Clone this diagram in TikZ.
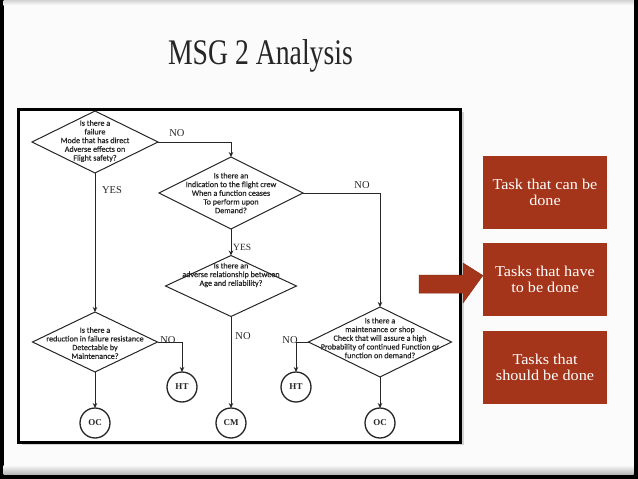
\documentclass[tikz,border=0pt]{standalone}
\usepackage{fontspec}
\setmainfont{Liberation Serif}
\newfontfamily\titlefont[FakeStretch=0.77]{Liberation Serif}
\newfontfamily\boxfont[FakeStretch=1.08]{Liberation Serif}
\newfontfamily\qfont[FakeBold=0.6]{Carlito}
\usetikzlibrary{shapes.geometric,arrows.meta}
\definecolor{rust}{RGB}{164,53,26}
\definecolor{rustdark}{RGB}{140,45,22}
\definecolor{ink}{RGB}{38,38,38}
\definecolor{slidebg}{RGB}{251,251,251}
\tikzset{
  qbox/.style={diamond, draw=ink, line width=1pt, inner sep=0pt, outer sep=0pt, fill=white},
  qtext/.style={font=\qfont\fontsize{8.1}{8.7}\selectfont, align=center, text=ink, inner sep=0pt},
  endc/.style={circle, draw=ink, line width=1.3pt, minimum size=30pt, inner sep=0pt, outer sep=0pt, fill=white, font=\bfseries\fontsize{9}{10}\selectfont, text=ink},
  flow/.style={draw=ink, line width=1pt, -{Stealth[length=5pt,width=4.5pt]}},
  lab/.style={font=\fontsize{10.5}{11}\selectfont, text=ink, inner sep=0pt},
  task/.style={fill=rust, minimum width=124pt, minimum height=73pt, inner sep=0pt, text=white, align=center, font=\boxfont\fontsize{15}{16}\selectfont}
}
\begin{document}
\begin{tikzpicture}[x=1pt,y=-1pt]
\useasboundingbox (0,0) rectangle (638,479);
% slide
\fill[black] (0,0) rectangle (638,479);
\fill[slidebg] (3.5,0) rectangle (633.5,474);
\shade[top color=gray!35, bottom color=slidebg] (3.5,0) rectangle (633.5,5);
\shade[top color=slidebg, bottom color=gray!55] (3.5,465) rectangle (633.5,474);
% title
\node[font=\titlefont\fontsize{36}{40}\selectfont, text=ink, inner sep=0pt] (title) at (260.5,56) {MSG 2 Analysis};
% image frame
\fill[gray!35] (21.5,112) rectangle (463.5,445);
\draw[line width=3pt, fill=white] (18.7,109.5) rectangle (460.5,442);
% decisions
\node[qbox, minimum width=126pt, minimum height=62pt] (d1) at (95,142) {};
\node[qtext] (d1t) at (95,141) {Is there a\\failure\\Mode that has direct\\Adverse effects on\\Flight safety?};
\node[qbox, minimum width=144pt, minimum height=72pt] (d2) at (231,193) {};
\node[qtext] (d2t) at (231,193) {Is there an\\Indication to the flight crew\\When a function ceases\\To perform upon\\Demand?};
\node[qbox, minimum width=131pt, minimum height=61pt] (d3) at (231,286) {};
\node[qtext] (d3t) at (231,275) {Is there an\\adverse relationship between\\Age and reliability?};
\node[qbox, minimum width=125pt, minimum height=60pt] (d4) at (95,342) {};
\node[qtext] (d4t) at (95,343) {Is there a\\reduction in failure resistance\\Detectable by\\Maintenance?};
\node[qbox, minimum width=143pt, minimum height=70pt] (d5) at (380,342) {};
\node[qtext] (d5t) at (380,338) {Is there a\\maintenance or shop\\Check that will assure a high\\Probability of continued Function or\\function on demand?};
% end circles
\node[endc] (oc1) at (95,423) {OC};
\node[endc] (ht1) at (182,387) {HT};
\node[endc] (cm) at (231,423) {CM};
\node[endc] (ht2) at (296,387) {HT};
\node[endc] (oc2) at (380,423) {OC};
% connectors
\draw[flow] (d1.east) -| (d2.north);
\draw[flow] (d1.south) -- (d4.north);
\draw[flow] (d2.south) -- (d3.north);
\draw[flow] (d2.east) -| (d5.north);
\draw[flow] (d3.south) -- (cm.north);
\draw[flow] (d4.east) -| (ht1.north);
\draw[flow] (d4.south) -- (oc1.north);
\draw[flow] (d5.west) -| (ht2.north);
\draw[flow] (d5.south) -- (oc2.north);
% labels
\node[lab] (l1) at (177,133) {NO};
\node[lab] (l2) at (112,190) {YES};
\node[lab, font=\fontsize{9.5}{10}\selectfont, anchor=west] (l3) at (233,247) {YES};
\node[lab] (l4) at (362,185) {NO};
\node[lab] (l5) at (243,336) {NO};
\node[lab] (l6) at (168,340) {NO};
\node[lab] (l7) at (290,340) {NO};
% task boxes
\node[task] (t1) at (545,192.5) {Task that can be\\done};
\node[task] (t2) at (545,279.5) {Tasks that have\\to be done};
\node[task] (t3) at (545,367) {Tasks that\\should be done};
% block arrow
\coordinate (tip) at ([yshift=4pt]t2.west);
\fill[rust, draw=rustdark, line width=0.5pt] (419,275) -- (463,275) -- (463,263) -- (tip) -- (463,303) -- (463,293) -- (419,293) -- cycle;
\end{tikzpicture}
\end{document}
